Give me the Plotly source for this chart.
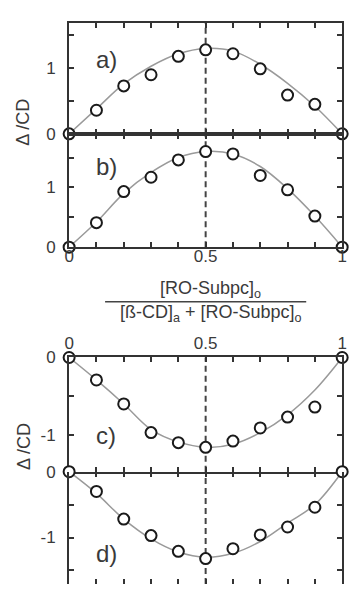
import plotly.graph_objects as go

W, H = 353, 594

# ---- data ----
x_frac = [0, 0.1, 0.2, 0.3, 0.4, 0.5, 0.6, 0.7, 0.8, 0.9, 1.0]
pts_a = [0, 0.36, 0.73, 0.90, 1.18, 1.28, 1.22, 0.99, 0.59, 0.45, 0]
pts_b = [0, 0.41, 0.93, 1.17, 1.46, 1.60, 1.56, 1.20, 0.96, 0.52, 0]
pts_c = [0, -0.29, -0.60, -0.97, -1.10, -1.16, -1.08, -0.91, -0.77, -0.64, 0]
pts_d = [0, -0.30, -0.72, -0.97, -1.21, -1.32, -1.17, -0.96, -0.84, -0.54, 0]

fit_a = [0, 0.38, 0.76, 1.03, 1.22, 1.30, 1.26, 1.06, 0.77, 0.42, 0]
fit_b = [0, 0.42, 0.90, 1.25, 1.50, 1.60, 1.56, 1.35, 0.98, 0.52, 0]
fit_c = [0, -0.29, -0.60, -0.93, -1.09, -1.16, -1.12, -0.97, -0.74, -0.42, 0]
fit_d = [0, -0.33, -0.72, -1.02, -1.22, -1.30, -1.24, -1.06, -0.78, -0.50, 0]

panel_labels = ["a)", "b)", "c)", "d)"]
x_tickvals = [0, 0.1, 0.2, 0.3, 0.4, 0.5, 0.6, 0.7, 0.8, 0.9, 1.0]
x_ticktext = ["0", "", "", "", "", "0.5", "", "", "", "", "1"]
ytick_pos = [0, 0.5, 1, 1.5]
ytick_pos_text = ["0", "", "1", ""]
ytick_neg = [0, -0.5, -1, -1.5]
ytick_neg_text = ["0", "", "-1", ""]
y_title = "Δ /CD"
num_text = "[RO-Subpc]<sub>o</sub>"
den_text = "[ß-CD]<sub>a</sub> + [RO-Subpc]<sub>o</sub>"


def px(x):
    return x / W


def py(y):
    return 1 - y / H


AX = "#333333"
TXT = "#3a3a3a"
FONT = "Liberation Sans, Arial, sans-serif"

x_dom = [px(66), px(347)]
y_doms = [
    [py(129), py(14)],
    [py(246), py(129)],
    [py(478), py(360)],
    [py(594), py(478)],
]
y_ranges = [[0, 1.695], [0, 1.896], [-1.475, 0], [-1.706, 0]]
pts = [pts_a, pts_b, pts_c, pts_d]
fits = [fit_a, fit_b, fit_c, fit_d]
x_standoff = [0, -8, 0, 0]

fig = go.Figure()

for i in range(4):
    xa = "x" if i == 0 else f"x{i+1}"
    ya = "y" if i == 0 else f"y{i+1}"
    fig.add_trace(go.Scatter(
        x=x_frac, y=fits[i], mode="lines", xaxis=xa, yaxis=ya,
        line=dict(color="#9a9a9a", width=1.5, shape="spline", smoothing=1.0),
        showlegend=False, hoverinfo="skip"))
    fig.add_trace(go.Scatter(
        x=x_frac, y=pts[i], mode="markers", xaxis=xa, yaxis=ya,
        marker=dict(size=11, color="white", line=dict(color="#1a1a1a", width=2)),
        cliponaxis=False, showlegend=False))
    # dashed vertical line at 0.5
    fig.add_shape(type="line", xref=xa, yref=f"{ya} domain", x0=0.5, x1=0.5,
                  y0=0, y1=1, line=dict(color="#444444", width=2, dash="6px,4px"),
                  layer="below")

    xkey = "xaxis" if i == 0 else f"xaxis{i+1}"
    ykey = "yaxis" if i == 0 else f"yaxis{i+1}"
    show_x_labels = i in (1, 2)
    fig.layout[xkey] = dict(
        domain=x_dom, range=[0, 1], anchor=ya,
        side="top" if i == 2 else "bottom",
        showline=(i != 3), linecolor=AX, linewidth=2, mirror="ticks",
        ticks="inside", ticklen=5, tickwidth=1.5, tickcolor=AX,
        tickvals=x_tickvals, ticktext=x_ticktext,
        showticklabels=show_x_labels, ticklabelstandoff=x_standoff[i],
        tickfont=dict(family=FONT, size=17, color=TXT),
        showgrid=False, zeroline=False, fixedrange=True)
    neg = i >= 2
    fig.layout[ykey] = dict(
        domain=y_doms[i], range=y_ranges[i], anchor=xa,
        showline=True, linecolor=AX, linewidth=2, mirror="ticks",
        ticks="inside", ticklen=5, tickwidth=1.5, tickcolor=AX,
        tickvals=ytick_neg if neg else ytick_pos,
        ticktext=ytick_neg_text if neg else ytick_pos_text,
        ticklabelstandoff=8,
        tickfont=dict(family=FONT, size=17, color=TXT),
        showgrid=False, zeroline=False, fixedrange=True)

annotations = []
label_y = [52, 163, 441, 562]
for lab, yy in zip(panel_labels, label_y):
    annotations.append(dict(text=lab, x=px(104), y=py(yy), xref="paper", yref="paper",
                            showarrow=False, xanchor="center", yanchor="middle",
                            font=dict(family=FONT, size=24, color=TXT)))
for yy in (117, 452):
    annotations.append(dict(text=y_title, x=px(19), y=py(yy), xref="paper", yref="paper",
                            showarrow=False, textangle=-90, xanchor="center", yanchor="middle",
                            font=dict(family=FONT, size=18, color=TXT)))
annotations.append(dict(text=num_text, x=px(212), y=py(290), xref="paper", yref="paper",
                        showarrow=False, xanchor="center", yanchor="middle",
                        font=dict(family=FONT, size=18, color=TXT)))
annotations.append(dict(text=den_text, x=px(212), y=py(315), xref="paper", yref="paper",
                        showarrow=False, xanchor="center", yanchor="middle",
                        font=dict(family=FONT, size=18, color=TXT)))
fig.add_shape(type="line", xref="paper", yref="paper", x0=px(103), x1=px(310),
              y0=py(302.5), y1=py(302.5), line=dict(color="#444444", width=1.5))

fig.update_layout(
    width=W, height=H, margin=dict(l=0, r=0, t=0, b=0),
    paper_bgcolor="white", plot_bgcolor="white",
    annotations=annotations, showlegend=False)

fig.write_html("out.html", config={"displayModeBar": False})
